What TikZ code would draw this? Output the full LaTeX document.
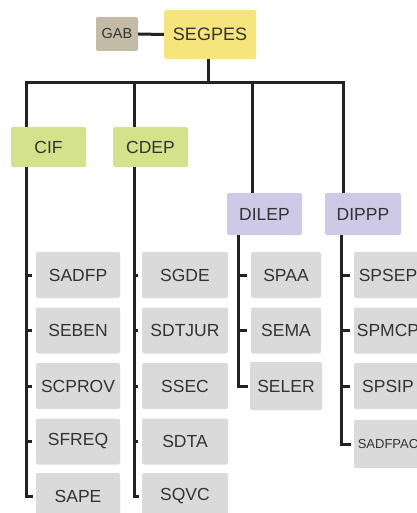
\documentclass[tikz,border=0pt]{standalone}
\usepackage{fontspec}
\setmainfont{Liberation Sans}
\definecolor{txt}{HTML}{333333}
\definecolor{lnc}{HTML}{222222}
\definecolor{gabc}{HTML}{C4BBA6}
\definecolor{segc}{HTML}{F6E57C}
\definecolor{grnc}{HTML}{D5E28C}
\definecolor{lavc}{HTML}{CEC9E7}
\definecolor{gryc}{HTML}{DADADA}
\begin{document}
\begin{tikzpicture}[x=1pt,y=-1pt,
  base/.style={rounded corners=2pt, inner sep=0pt, text=txt, font=\fontsize{17.5}{17.5}\selectfont},
  gab/.style={base, fill=gabc, minimum width=42pt, minimum height=34pt, font=\fontsize{14.5}{14.5}\selectfont},
  seg/.style={base, fill=segc, minimum width=92pt, minimum height=49pt, font=\fontsize{18}{18}\selectfont},
  grn/.style={base, fill=grnc, minimum width=75pt, minimum height=40pt, font=\fontsize{17.5}{17.5}\selectfont},
  lav/.style={base, fill=lavc, minimum width=75pt, minimum height=42pt},
  gry/.style={base, fill=gryc, minimum height=46pt},
  link/.style={draw=lnc, line width=3pt},
]
\useasboundingbox (0,0) rectangle (416,513);
% top
\node[gab] (gab) at (117,34) {GAB};
\node[seg] (segpes) at (210,34.5) {SEGPES};
\node[grn] (cif) at (48.5,147) {CIF};
\node[grn] (cdep) at (150.5,147) {CDEP};
\node[lav] (dilep) at (264.5,214) {DILEP};
\node[lav, minimum width=76pt] (dippp) at (363,214) {DIPPP};
% CIF column
\node[gry, minimum width=84pt] (sadfp) at (78,275) {SADFP};
\node[gry, minimum width=84pt] (seben) at (78,330.5) {SEBEN};
\node[gry, minimum width=84pt] (scprov) at (78,386) {SCPROV};
\node[gry, minimum width=84pt] (sfreq) at (78,441.5) {SFREQ};
\node[gry, minimum width=84pt] (sape) at (78,496) {SAPE};
% CDEP column
\node[gry, minimum width=86pt] (sgde) at (185,275) {SGDE};
\node[gry, minimum width=86pt] (sdtjur) at (185,330.5) {SDTJUR};
\node[gry, minimum width=86pt] (ssec) at (185,386) {SSEC};
\node[gry, minimum width=86pt] (sdta) at (185,441.5) {SDTA};
\node[gry, minimum width=86pt] (sqvc) at (185,496) {SQVC};
% DILEP column
\node[gry, minimum width=70pt] (spaa) at (286,275) {SPAA};
\node[gry, minimum width=70pt] (sema) at (286,330.5) {SEMA};
\node[gry, minimum width=72pt, minimum height=48pt] (seler) at (286,386) {SELER};
% DIPPP column
\node[gry, minimum width=68pt] (spsep) at (388,275) {SPSEP};
\node[gry, minimum width=68pt] (spmcp) at (388,330.5) {SPMCP};
\node[gry, minimum width=68pt] (spsip) at (388,386) {SPSIP};
\node[gry, minimum width=68pt, minimum height=48pt, font=\fontsize{13}{13}\selectfont] (sadfpac) at (388,444) {SADFPAC};
% connectors
\coordinate (bar) at (208,83);
\coordinate (b1) at (26,83);
\coordinate (b2) at (134,83);
\coordinate (b3) at (252,83);
\coordinate (b4) at (343,83);
\draw[link] (gab.east) -- (segpes.west);
\draw[link] (segpes.south -| bar) -- (bar);
\draw[link, line cap=rect] (b1) -- (b4);
\draw[link] (b1) -- (b1 |- cif.north);
\draw[link] (b2) -- (b2 |- cdep.north);
\draw[link] (b3) -- (b3 |- dilep.north);
\draw[link] (b4) -- (b4 |- dippp.north);
% CIF subtree
\coordinate (v1) at (26,0);
\draw[link] (v1 |- cif.south) |- ([xshift=-3pt]sape.west);
\foreach \n in {sadfp,seben,scprov,sfreq}
  \draw[link] (v1 |- \n.west) -- ([xshift=-4pt]\n.west);
% CDEP subtree
\coordinate (v2) at (134,0);
\draw[link] (v2 |- cdep.south) |- ([xshift=-3pt]sqvc.west);
\foreach \n in {sgde,sdtjur,ssec,sdta}
  \draw[link] (v2 |- \n.west) -- ([xshift=-4pt]\n.west);
% DILEP subtree
\coordinate (v3) at (238,0);
\draw[link] (v3 |- dilep.south) |- ([xshift=-2pt]seler.west);
\foreach \n in {spaa,sema}
  \draw[link] (v3 |- \n.west) -- ([xshift=-4pt]\n.west);
% DIPPP subtree
\coordinate (v4) at (341,0);
\draw[link] (v4 |- dippp.south) |- ([xshift=-3pt]sadfpac.west);
\foreach \n in {spsep,spmcp,spsip}
  \draw[link] (v4 |- \n.west) -- ([xshift=-4pt]\n.west);
\end{tikzpicture}
\end{document}
